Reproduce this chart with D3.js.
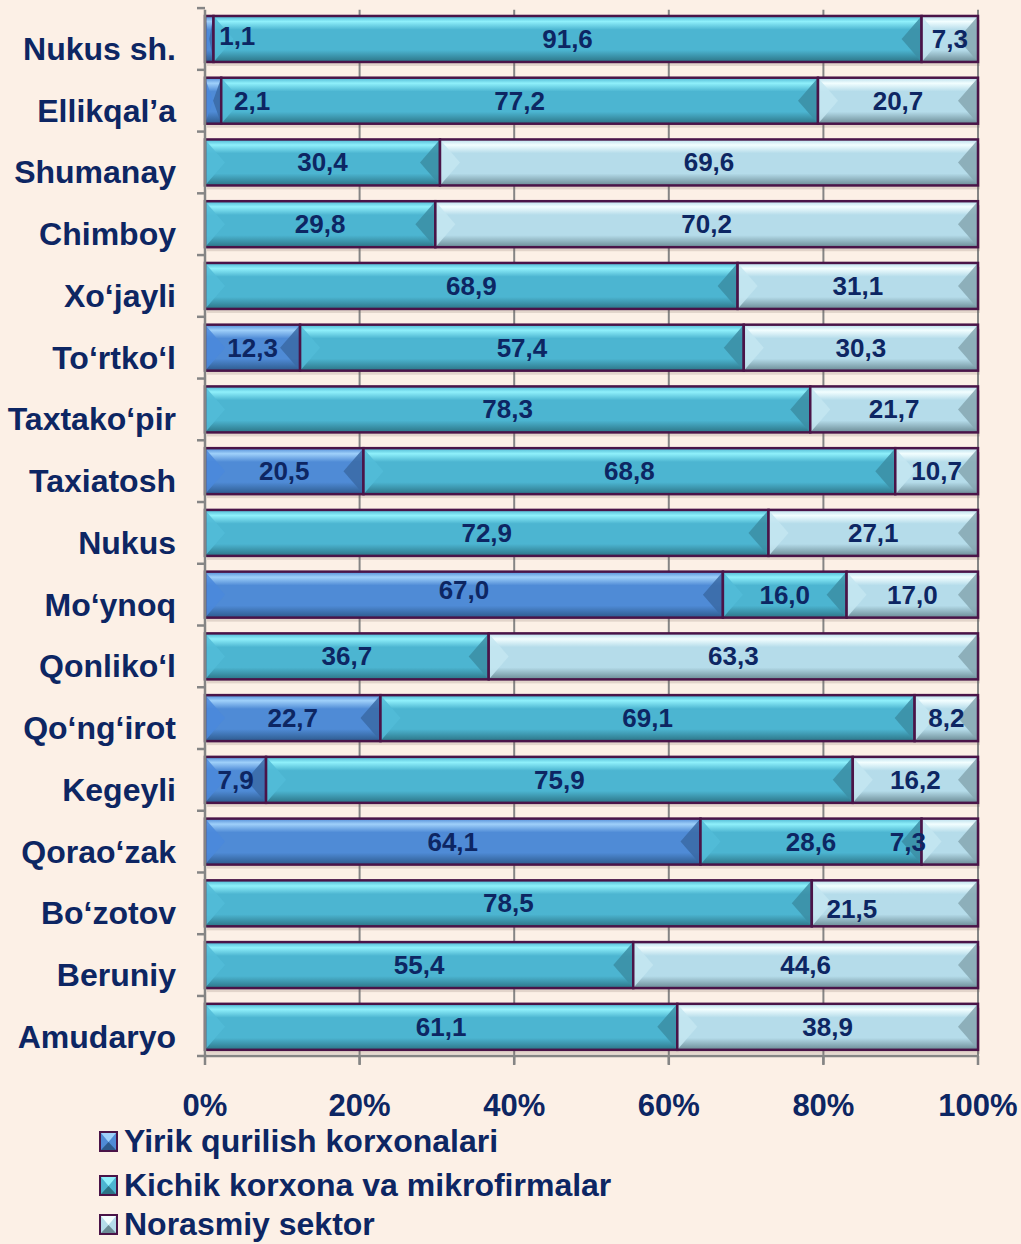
<!DOCTYPE html>
<html>
<head>
<meta charset="utf-8">
<script src="https://cdn.jsdelivr.net/npm/d3@7"></script>
<style>
  html, body { margin: 0; padding: 0; background: #fcf0e6; }
  svg { display: block; font-family: "Liberation Sans", Arial, sans-serif; }
</style>
</head>
<body>
<svg id="chart" width="1021" height="1244"></svg>
<script>
(function () {
  'use strict';

  /* ---------- data ---------- */
  var categories = ['Nukus sh.', 'Ellikqal’a', 'Shumanay', 'Chimboy', 'Xo‘jayli', 'To‘rtko‘l',
    'Taxtako‘pir', 'Taxiatosh', 'Nukus', 'Mo‘ynoq', 'Qonliko‘l', 'Qo‘ng‘irot', 'Kegeyli',
    'Qorao‘zak', 'Bo‘zotov', 'Beruniy', 'Amudaryo'];

  var seriesNames = ['Yirik qurilish korxonalari', 'Kichik korxona va mikrofirmalar', 'Norasmiy sektor'];

  var yirik    = [1.1, 2.1, 0, 0, 0, 12.3, 0, 20.5, 0, 67.0, 0, 22.7, 7.9, 64.1, 0, 0, 0];
  var kichik   = [91.6, 77.2, 30.4, 29.8, 68.9, 57.4, 78.3, 68.8, 72.9, 16.0, 36.7, 69.1, 75.9, 28.6, 78.5, 55.4, 61.1];
  var norasmiy = [7.3, 20.7, 69.6, 70.2, 31.1, 30.3, 21.7, 10.7, 27.1, 17.0, 63.3, 8.2, 16.2, 7.3, 21.5, 44.6, 38.9];

  var xTicks = [0, 20, 40, 60, 80, 100];

  /* label nudges (px) where the original puts a value label off-centre */
  var labelNudge = {
    'Nukus sh.|0': [28, -3],
    'Ellikqal’a|0': [39, 0],
    'Mo‘ynoq|0': [0, -5],
    'Qorao‘zak|2': [-42, 0],
    'Bo‘zotov|2': [-43, 6]
  };

  /* ---------- styles ---------- */
  var TXT = '#0d2663';
  var EDGE = '#4a1448';
  var palette = [
    { top: '#9fd0fa', base: '#4f8bd6', bot: '#2d5a8c', left: '#4a88dc', right: '#3a6aa6' },
    { top: '#8ff0fb', base: '#4cb5d1', bot: '#2c7486', left: '#52bcd8', right: '#3b8ea4' },
    { top: '#f2feff', base: '#b5dcea', bot: '#6b8b95', left: '#c4e6f1', right: '#86a7b1' }
  ];

  var svg = d3.select('#chart');
  var defs = svg.append('defs');

  palette.forEach(function (p, i) {
    var g = defs.append('linearGradient')
      .attr('id', 'grad' + i).attr('x1', 0).attr('y1', 0).attr('x2', 0).attr('y2', 1);
    g.append('stop').attr('offset', '0%').attr('stop-color', p.base);
    g.append('stop').attr('offset', '12%').attr('stop-color', p.top);
    g.append('stop').attr('offset', '30%').attr('stop-color', p.base);
    g.append('stop').attr('offset', '74%').attr('stop-color', p.base);
    g.append('stop').attr('offset', '100%').attr('stop-color', p.bot);
  });

  /* ---------- scales ---------- */
  var x = d3.scaleLinear().domain([0, 100]).range([205, 978]);
  var y = d3.scaleBand().domain(categories).range([9.8, 1056])
    .paddingInner(0.255).paddingOuter(0.1);

  var stackData = categories.map(function (c, i) {
    return { cat: c, s0: yirik[i], s1: kichik[i], s2: norasmiy[i] };
  });
  var stacked = d3.stack().keys(['s0', 's1', 's2'])(stackData);

  /* ---------- grid ---------- */
  svg.append('g').selectAll('line')
    .data(xTicks.slice(1))
    .enter().append('line')
    .attr('x1', function (d) { return x(d); })
    .attr('x2', function (d) { return x(d); })
    .attr('y1', y.range()[0]).attr('y2', y.range()[1] + 8)
    .attr('stroke', '#858585').attr('stroke-width', 2);

  /* ---------- bars ---------- */
  var bh = y.bandwidth();

  function drawSeg(g, si, x0, x1, top) {
    var w = x1 - x0;
    if (w <= 0) return;
    var p = palette[si];
    var d = Math.min(20, w / 2);
    g.append('rect').attr('x', x0 + 2).attr('y', top + 4).attr('width', w).attr('height', bh)
      .attr('fill', '#6e5a50').attr('opacity', 0.18);
    g.append('rect').attr('x', x0).attr('y', top).attr('width', w).attr('height', bh)
      .attr('fill', 'url(#grad' + si + ')');
    g.append('path')
      .attr('d', 'M' + x0 + ',' + top + 'L' + (x0 + d) + ',' + (top + bh / 2) +
        'L' + x0 + ',' + (top + bh) + 'Z')
      .attr('fill', p.left).attr('opacity', 0.85);
    g.append('path')
      .attr('d', 'M' + x1 + ',' + top + 'L' + (x1 - d) + ',' + (top + bh / 2) +
        'L' + x1 + ',' + (top + bh) + 'Z')
      .attr('fill', p.right).attr('opacity', 0.85);
    g.append('rect').attr('x', x0).attr('y', top).attr('width', w).attr('height', bh)
      .attr('fill', 'none').attr('stroke', EDGE).attr('stroke-width', 2.5);
  }

  var barG = svg.append('g');
  stacked.forEach(function (layer, si) {
    layer.forEach(function (seg) {
      drawSeg(barG, si, x(seg[0]), x(seg[1]), y(seg.data.cat));
    });
  });

  /* ---------- value labels ---------- */
  var lblG = svg.append('g');
  stacked.forEach(function (layer, si) {
    layer.forEach(function (seg) {
      var v = seg[1] - seg[0];
      if (v <= 0) return;
      var nud = labelNudge[seg.data.cat + '|' + si] || [0, 0];
      lblG.append('text')
        .attr('x', (x(seg[0]) + x(seg[1])) / 2 + nud[0])
        .attr('y', y(seg.data.cat) + bh / 2 + nud[1])
        .attr('text-anchor', 'middle')
        .attr('dominant-baseline', 'central')
        .attr('font-size', 26).attr('font-weight', 'bold').attr('fill', TXT)
        .text(v.toFixed(1).replace('.', ','));
    });
  });

  /* ---------- axes ---------- */
  var axG = svg.append('g').attr('stroke', '#858585').attr('stroke-width', 2.5);
  var yTop = y.range()[0], yBot = y.range()[1];
  axG.append('line').attr('x1', x(0)).attr('x2', x(0)).attr('y1', yTop).attr('y2', yBot);
  axG.append('line').attr('x1', x(0)).attr('x2', x(100)).attr('y1', yBot).attr('y2', yBot);

  var gap = y.step() * y.paddingInner() / 2;
  var yTickPos = categories.map(function (c) { return y(c) - gap; }).concat([yBot]);
  axG.selectAll('.yt').data(yTickPos).enter().append('line')
    .attr('x1', x(0) - 8).attr('x2', x(0))
    .attr('y1', function (d) { return d; }).attr('y2', function (d) { return d; });
  axG.selectAll('.xt').data(xTicks).enter().append('line')
    .attr('x1', function (d) { return x(d); }).attr('x2', function (d) { return x(d); })
    .attr('y1', yBot).attr('y2', yBot + 9);

  svg.append('g').selectAll('text').data(xTicks).enter().append('text')
    .attr('x', function (d) { return x(d); })
    .attr('y', 1105)
    .attr('text-anchor', 'middle').attr('dominant-baseline', 'central')
    .attr('font-size', 31).attr('font-weight', 'bold').attr('fill', TXT)
    .text(function (d) { return d + '%'; });

  svg.append('g').selectAll('text').data(categories).enter().append('text')
    .attr('x', 176)
    .attr('y', function (d) { return y(d) + bh / 2 + 10; })
    .attr('text-anchor', 'end').attr('dominant-baseline', 'central')
    .attr('font-size', 32).attr('font-weight', 'bold').attr('fill', TXT)
    .text(function (d) { return d; });

  /* ---------- legend ---------- */
  var legY = [1141, 1185, 1224];
  var leg = svg.append('g');
  seriesNames.forEach(function (name, i) {
    var p = palette[i];
    var ly = legY[i];
    leg.append('rect').attr('x', 100).attr('y', ly - 9).attr('width', 17).attr('height', 19)
      .attr('fill', p.base).attr('stroke', EDGE).attr('stroke-width', 2);
    leg.append('path')
      .attr('d', 'M101,' + (ly - 8) + 'L116,' + (ly - 8) + 'L108.5,' + (ly + 1) + 'Z')
      .attr('fill', p.top);
    leg.append('path')
      .attr('d', 'M101,' + (ly + 9) + 'L116,' + (ly + 9) + 'L108.5,' + (ly + 1) + 'Z')
      .attr('fill', p.bot);
    leg.append('text')
      .attr('x', 124).attr('y', ly)
      .attr('dominant-baseline', 'central')
      .attr('font-size', 32).attr('font-weight', 'bold').attr('fill', TXT)
      .text(name);
  });
})();
</script>
</body>
</html>
